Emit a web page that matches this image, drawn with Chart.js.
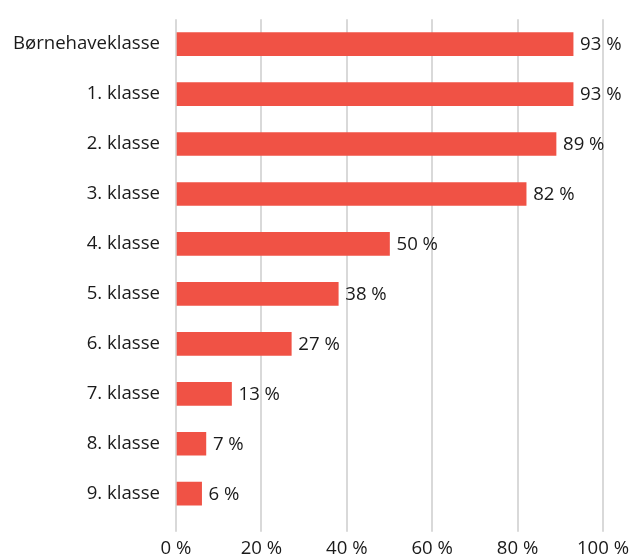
<!DOCTYPE html>
<html>
<head>
<meta charset="utf-8">
<script src="https://cdn.jsdelivr.net/npm/chart.js@4"></script>
<style>
  html, body { margin: 0; padding: 0; background: #fff; overflow: hidden; }
  #wrap { width: 642px; height: 559px; overflow: hidden; }
</style>
</head>
<body>
<div id="wrap"><canvas id="grafico" width="642" height="566"></canvas></div>
<script>
// kategorier og andele (%)
const klasser = [
  "Børnehaveklasse", "1. klasse", "2. klasse", "3. klasse", "4. klasse",
  "5. klasse", "6. klasse", "7. klasse", "8. klasse", "9. klasse"
];
const andele = [93, 93, 89, 82, 50, 38, 27, 13, 7, 6];
const xTicks = [0, 20, 40, 60, 80, 100];

const fontFamily = "'Open Sans', sans-serif";
const tekstFarve = "#1a1a1a";
const fontSize = 18.6;

// skriver "93 %" for enden af hver søjle
const vaerdiLabels = {
  id: 'vaerdiLabels',
  afterDatasetsDraw(chart) {
    const ctx = chart.ctx;
    const meta = chart.getDatasetMeta(0);
    ctx.save();
    ctx.font = fontSize + "px " + fontFamily;
    ctx.fillStyle = tekstFarve;
    ctx.textAlign = 'left';
    ctx.textBaseline = 'middle';
    meta.data.forEach((bar, i) => {
      ctx.fillText(andele[i] + " %", bar.x + 7, bar.y + 1);
    });
    ctx.restore();
  }
};

const ctx = document.getElementById('grafico').getContext('2d');
const chart = new Chart(ctx, {
  type: 'bar',
  data: {
    labels: klasser,
    datasets: [{
      data: andele,
      backgroundColor: '#f05245',
      borderWidth: 0,
      barThickness: 23
    }]
  },
  options: {
    indexAxis: 'y',
    responsive: false,
    animation: false,
    layout: { padding: { top: 10, right: 39, left: 0, bottom: 0 } },
    plugins: {
      legend: { display: false },
      tooltip: { enabled: false }
    },
    scales: {
      x: {
        min: 0,
        max: 100,
        afterBuildTicks(scale) {
          scale.ticks = xTicks.map(v => ({ value: v }));
        },
        border: { display: false },
        grid: {
          color: '#d9d9d9',
          lineWidth: 2,
          drawTicks: true,
          tickLength: 13
        },
        ticks: {
          padding: 6,
          color: tekstFarve,
          font: { family: fontFamily, size: fontSize },
          callback: v => v + " %"
        }
      },
      y: {
        afterFit(scale) { scale.width = 176; },
        border: { display: false },
        grid: { display: false },
        ticks: {
          padding: 8,
          color: tekstFarve,
          font: { family: fontFamily, size: fontSize }
        }
      }
    }
  },
  plugins: [vaerdiLabels]
});
</script>
</body>
</html>
